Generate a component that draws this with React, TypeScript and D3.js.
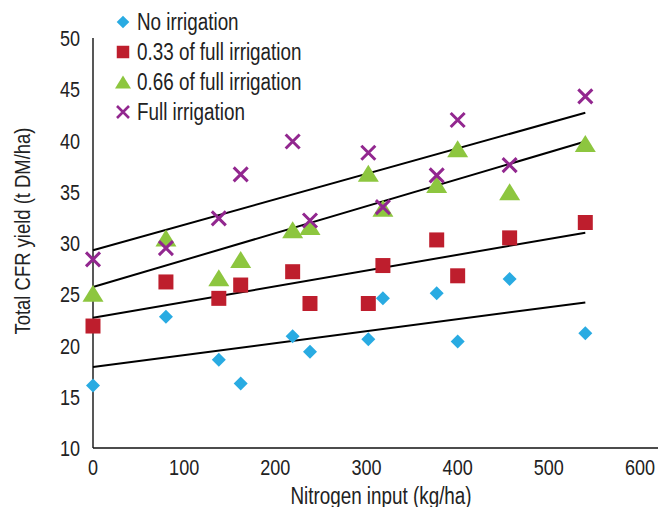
import * as d3 from 'd3';
import React, { useEffect, useRef } from 'react';

// nitrogen input (kg/ha), shared by all treatments
const nitrogen = [0, 80, 138, 162, 219, 238, 302, 318, 377, 400, 457, 540];

// total CFR yield (t DM/ha)
const noIrrigation = [16.1, 22.8, 18.6, 16.3, 20.9, 19.4, 20.6, 24.6, 25.1, 20.4, 26.5, 21.2];
const irrigation33 = [21.9, 26.2, 24.6, 25.9, 27.2, 24.1, 24.1, 27.8, 30.3, 26.8, 30.5, 32.0];
const irrigation66 = [25.1, 30.5, 26.6, 28.4, 31.3, 31.6, 36.8, 33.4, 35.7, 39.2, 35.0, 39.7];
const fullIrrigation = [28.4, 29.5, 32.4, 36.7, 39.9, 32.2, 38.8, 33.5, 36.6, 42.0, 37.6, 44.3];

// trend lines, value at x = 0 and x = 540
const trendX = [0, 540];
const trendStart = [17.9, 22.7, 25.7, 29.3];
const trendEnd = [24.2, 31.0, 39.9, 42.7];

const seriesNames = ['No irrigation', '0.33 of full irrigation', '0.66 of full irrigation', 'Full irrigation'];
const colors = ['#29abe2', '#be1e2d', '#8dc63f', '#92278f'];

const xTicks = [0, 100, 200, 300, 400, 500, 600];
const yTicks = [10, 15, 20, 25, 30, 35, 40, 45, 50];

const FONT = '"Liberation Sans", Arial, sans-serif';
const NARROW = 0.82; // squeeze to look like a condensed face

export default () => {
    const ref = useRef<any>();

    function draw(): void {
        const width = 661;
        const height = 507;

        const svg = d3.select<any, any>(ref.current)
            .attr('width', width)
            .attr('height', height);
        svg.selectAll('*').remove();

        const x = d3.scaleLinear().domain([0, 600]).range([93, 640]);
        const y = d3.scaleLinear().domain([10, 50]).range([448, 38]);

        const label = (g: any, tx: number, ty: number, txt: string, size: number, anchor: string, rot = 0) => {
            g.append('text')
                .attr('transform', `translate(${tx},${ty}) rotate(${rot}) scale(${NARROW},1)`)
                .attr('text-anchor', anchor)
                .attr('font-family', FONT)
                .attr('font-size', size)
                .attr('fill', '#222')
                .text(txt);
        };

        // axes
        svg.append('line')
            .attr('x1', x(0)).attr('x2', 658)
            .attr('y1', y(10)).attr('y2', y(10))
            .attr('stroke', '#111').attr('stroke-width', 1.4);
        svg.append('line')
            .attr('x1', x(0)).attr('x2', x(0))
            .attr('y1', y(10)).attr('y2', y(50))
            .attr('stroke', '#111').attr('stroke-width', 1.4);

        const axisText = svg.append('g');
        xTicks.forEach((t) => label(axisText, x(t), y(10) + 27, String(t), 22, 'middle'));
        yTicks.forEach((t) => label(axisText, 80, y(t) + 8, String(t), 22, 'end'));

        label(svg, 381, 504, 'Nitrogen input (kg/ha)', 23, 'middle');
        label(svg, 30, 231, 'Total CFR yield (t DM/ha)', 22.5, 'middle', -90);

        // trend lines
        const line = d3.line<number[]>().x((d) => x(d[0])).y((d) => y(d[1]));
        trendStart.forEach((s, i) => {
            svg.append('path')
                .attr('d', line([[trendX[0], s], [trendX[1], trendEnd[i]]]))
                .attr('stroke', '#000')
                .attr('stroke-width', 2)
                .attr('fill', 'none');
        });

        // marker shapes
        const diamond = (cx: number, cy: number, r: number) =>
            `M${cx},${cy - r}L${cx + r},${cy}L${cx},${cy + r}L${cx - r},${cy}Z`;
        const square = (cx: number, cy: number, s: number) =>
            `M${cx - s / 2},${cy - s / 2}h${s}v${s}h${-s}Z`;
        const triangle = (cx: number, cy: number, w: number, h: number) =>
            `M${cx},${cy - h / 2}L${cx + w / 2},${cy + h / 2}L${cx - w / 2},${cy + h / 2}Z`;
        const cross = (cx: number, cy: number, r: number) =>
            `M${cx - r},${cy - r}L${cx + r},${cy + r}M${cx + r},${cy - r}L${cx - r},${cy + r}`;

        const marks = svg.append('g');
        marks.selectAll('.blue').data(noIrrigation).join('path')
            .attr('d', (d, i) => diamond(x(nitrogen[i]), y(d), 7))
            .attr('fill', colors[0]);
        marks.selectAll('.red').data(irrigation33).join('path')
            .attr('d', (d, i) => square(x(nitrogen[i]), y(d), 15))
            .attr('fill', colors[1]);
        marks.selectAll('.green').data(irrigation66).join('path')
            .attr('d', (d, i) => triangle(x(nitrogen[i]), y(d), 21, 17))
            .attr('fill', colors[2]);
        marks.selectAll('.purple').data(fullIrrigation).join('path')
            .attr('d', (d, i) => cross(x(nitrogen[i]), y(d), 7))
            .attr('stroke', colors[3])
            .attr('stroke-width', 3)
            .attr('fill', 'none');

        // legend
        const legend = svg.append('g');
        const lx = 123;
        seriesNames.forEach((name, i) => {
            const cy = 22 + i * 30;
            let d = '';
            if (i === 0) d = diamond(lx, cy, 6.3);
            if (i === 1) d = square(lx, cy, 12.5);
            if (i === 2) d = triangle(lx, cy, 16, 13);
            if (i === 3) d = cross(lx, cy, 6);
            const p = legend.append('path').attr('d', d);
            if (i === 3) {
                p.attr('stroke', colors[i]).attr('stroke-width', 2.6).attr('fill', 'none');
            } else {
                p.attr('fill', colors[i]);
            }
            label(legend, 137, cy + 8, name, 23, 'start');
        });
    }

    useEffect(() => {
        draw();
    });

    return (
        <svg ref={ref} style={{ position: 'absolute', left: 0, top: 0 }}></svg>
    );
};
